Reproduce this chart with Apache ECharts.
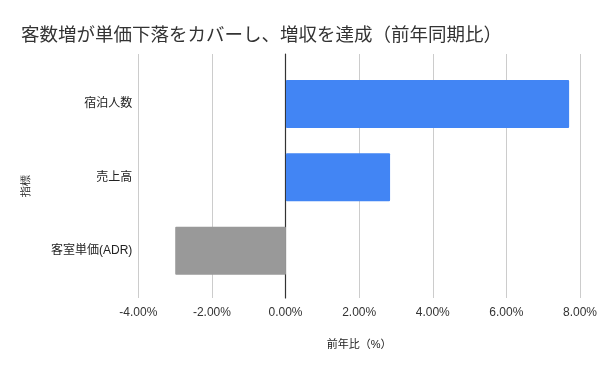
<!DOCTYPE html>
<html>
<head>
<meta charset="utf-8">
<script src="https://cdn.jsdelivr.net/npm/echarts@6/dist/echarts.min.js"></script>
<style>html,body{margin:0;padding:0;background:#fff}#c{width:600px;height:371px}</style>
</head>
<body>
<div id="c"></div>
<script>
const categories = ['宿泊人数', '売上高', '客室単価(ADR)'];
const values = [7.67, 2.82, -3.0];
const xTicks = { min: -4, max: 8, interval: 2 };
const titleText = '客数増が単価下落をカバーし、増収を達成（前年同期比）';
const xName = '前年比（%）';
const yName = '指標';

const FONT = '"Liberation Sans", Arial, "Noto Sans CJK JP", sans-serif';
const chart = echarts.init(document.getElementById('c'), null, { renderer: 'canvas' });
const L = 138.3, R = 600 - 581.3;
chart.setOption({
  animation: false,
  textStyle: { fontFamily: FONT },
  title: {
    text: titleText, left: 16, top: 22,
    textStyle: { fontSize: 18.5, fontWeight: 'normal', color: '#333', fontFamily: FONT }
  },
  graphic: [{
    type: 'text', x: 26, y: 186, rotation: Math.PI / 2,
    style: { text: yName, fontSize: 11, fill: '#222', align: 'center', verticalAlign: 'middle', font: '11px ' + FONT }
  }],
  grid: [
    { left: L, right: R, top: 54, height: 244 },
    { left: L, right: R, top: 67.3, height: 220 }
  ],
  xAxis: [
    {
      gridIndex: 0, type: 'value', min: xTicks.min, max: xTicks.max, interval: xTicks.interval,
      axisLine: { show: false }, axisTick: { show: false },
      splitLine: { show: true, lineStyle: { color: '#ccc', width: 1 } },
      axisLabel: { margin: 9, fontSize: 12, color: '#333', formatter: v => v.toFixed(2) + '%' },
      name: xName, nameLocation: 'middle', nameGap: 41,
      nameTextStyle: { fontSize: 11, color: '#222' }
    },
    {
      gridIndex: 1, type: 'value', min: xTicks.min, max: xTicks.max, interval: xTicks.interval,
      show: false
    }
  ],
  yAxis: [
    {
      gridIndex: 0, type: 'category', data: [''],
      axisLine: { show: true, onZero: true, lineStyle: { color: '#333', width: 1.2 } },
      axisTick: { show: false }, axisLabel: { show: false }
    },
    {
      gridIndex: 1, type: 'category', data: categories, inverse: true,
      axisLine: { show: false }, axisTick: { show: false },
      axisLabel: { margin: 6, fontSize: 12, color: '#222' }
    }
  ],
  series: [{
    type: 'bar', xAxisIndex: 1, yAxisIndex: 1,
    data: values.map(v => ({ value: v, itemStyle: { color: v >= 0 ? '#4285f4' : '#999999' } })),
    barWidth: 48,
    itemStyle: { borderRadius: 1 }
  }]
});
</script>
</body>
</html>
